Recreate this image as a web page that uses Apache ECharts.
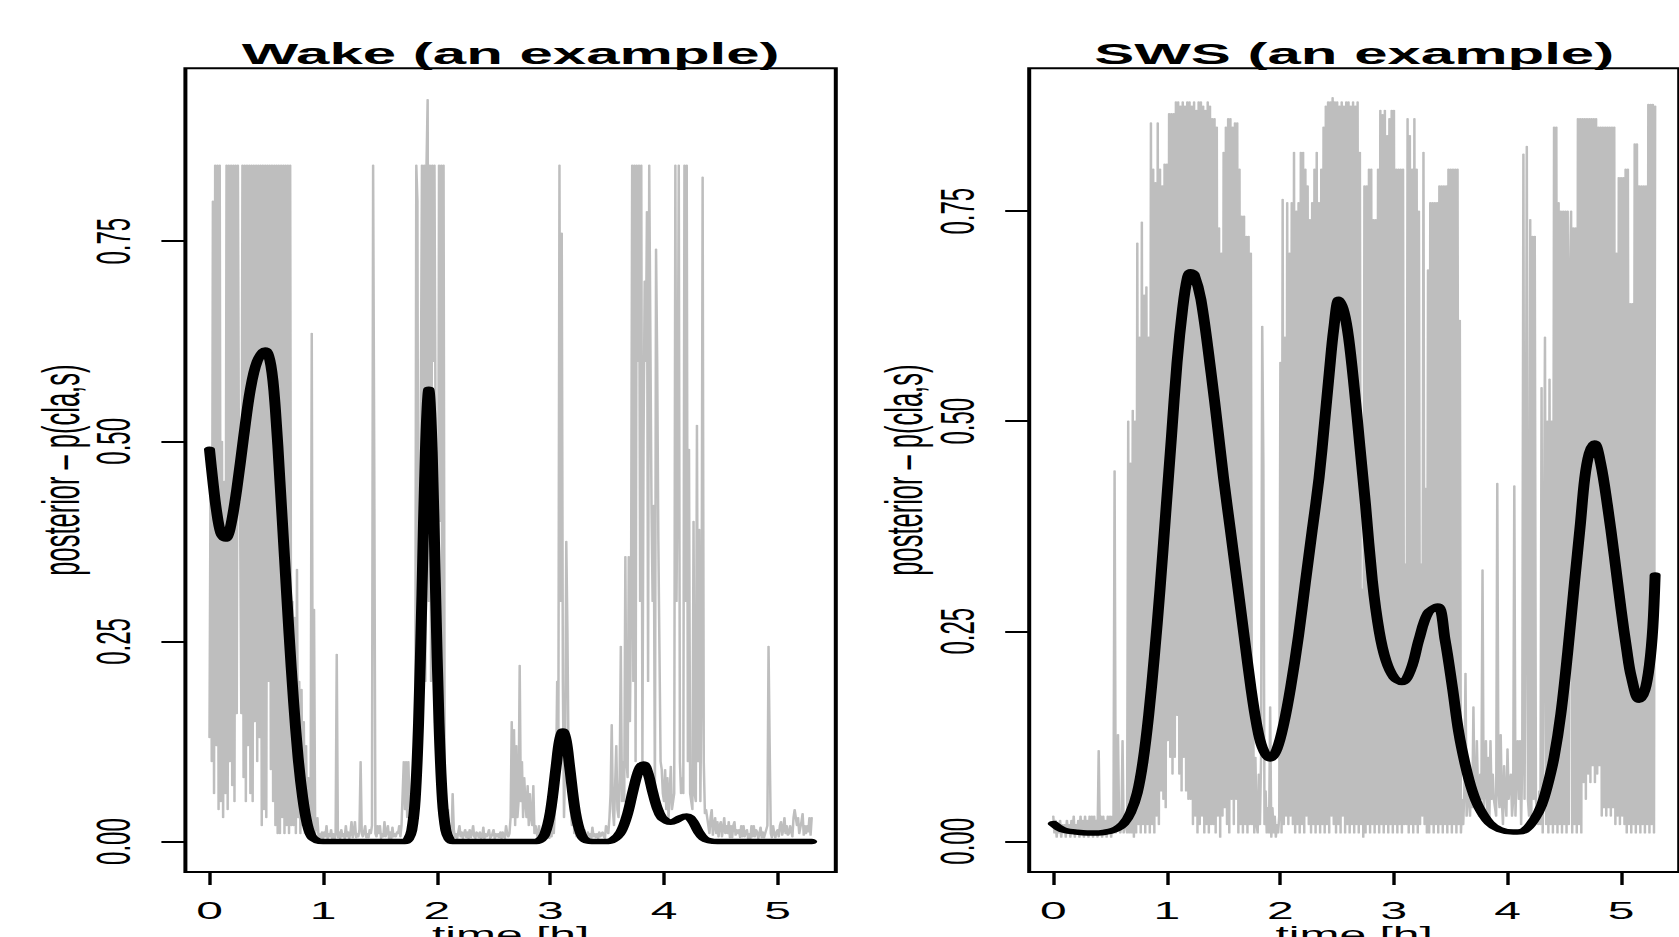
<!DOCTYPE html>
<html>
<head>
<meta charset="utf-8">
<script src="https://cdn.jsdelivr.net/npm/echarts@6/dist/echarts.min.js"></script>
<style>
  html, body { margin: 0; padding: 0; background: #fff; overflow: hidden; }
  #chart { width: 840px; height: 937px; transform: scaleX(2); transform-origin: 0 0; }
</style>
</head>
<body>
<div id="chart"></div>
<script>
// ---- data ----
const TIME_STEP_H = 0.01; // sampling step of the grey posterior traces (hours)

// Wake posterior trace, one row = 0.1 h
const wakeGray = [
 .13,.48,.10,.80,.06,.845,.12,.845,.04,.845,
 .05,.50,.03,.45,.06,.845,.04,.845,.10,.845,
 .07,.845,.05,.845,.16,.845,.43,.40,.16,.845,
 .08,.845,.05,.845,.12,.845,.06,.845,.05,.845,
 .15,.845,.10,.845,.13,.845,.02,.845,.04,.845,
 .03,.845,.20,.845,.09,.845,.05,.845,.02,.845,
 .01,.845,.01,.845,.03,.845,.01,.845,.02,.845,
 .01,.845,.02,.30,.02,.28,.01,.34,.03,.20,
 .01,.19,.02,.15,.01,.12,.01,.08,.005,.03,
 .635,.01,.29,.01,.02,.03,.005,.01,.004,.012,
 .004,.012,.006,.02,.004,.01,.006,.015,.004,.01,
 .003,.01,.234,.005,.012,.004,.015,.006,.01,.004,
 .02,.006,.012,.004,.01,.025,.005,.012,.025,.005,
 .01,.006,.015,.10,.01,.006,.012,.02,.005,.01,
 .005,.015,.01,.02,.845,.47,.01,.006,.02,.01,
 .02,.004,.01,.006,.025,.006,.012,.02,.004,.012,
 .004,.018,.006,.01,.006,.012,.01,.02,.006,.02,
 .06,.10,.04,.10,.03,.10,.05,.02,.06,.02,
 .04,.06,.845,.80,.05,.10,.55,.845,.30,.845,
 .20,.845,.927,.30,.845,.20,.845,.60,.845,.50,
 .42,.10,.845,.40,.845,.10,.845,.06,.03,.02,
 .04,.01,.02,.006,.06,.015,.005,.01,.004,.012,
 .02,.006,.012,.004,.01,.015,.005,.012,.004,.015,
 .005,.01,.02,.006,.004,.012,.01,.005,.012,.004,
 .005,.018,.004,.01,.006,.01,.015,.004,.006,.01,
 .015,.004,.01,.006,.01,.005,.012,.004,.012,.006,
 .004,.02,.01,.006,.01,.03,.15,.03,.14,.02,
 .12,.03,.05,.22,.05,.10,.03,.08,.05,.03,
 .07,.02,.06,.03,.02,.07,.01,.02,.01,.005,
 .02,.005,.004,.015,.006,.004,.01,.005,.01,.004,
 .02,.006,.03,.01,.04,.08,.20,.10,.845,.30,
 .76,.20,.03,.10,.375,.264,.10,.08,.04,.02,
 .08,.01,.02,.006,.01,.004,.015,.02,.004,.01,
 .015,.005,.006,.012,.004,.01,.004,.018,.006,.01,
 .005,.01,.004,.012,.006,.01,.012,.006,.004,.02,
 .02,.01,.03,.06,.146,.04,.02,.07,.12,.04,
 .03,.08,.244,.05,.10,.05,.356,.10,.08,.356,
 .15,.30,.845,.20,.845,.10,.845,.60,.845,.30,
 .845,.10,.50,.70,.60,.787,.20,.845,.845,.42,
 .30,.42,.05,.74,.60,.38,.24,.10,.09,.06,
 .05,.09,.04,.08,.03,.06,.094,.04,.05,.06,
 .845,.30,.49,.845,.10,.06,.08,.06,.845,.30,
 .845,.10,.49,.06,.06,.04,.40,.06,.05,.52,
 .10,.39,.05,.20,.83,.10,.035,.04,.03,.02,
 .01,.03,.04,.008,.02,.03,.01,.025,.006,.02,
 .025,.006,.015,.03,.01,.02,.01,.025,.005,.02,
 .005,.02,.025,.008,.015,.01,.015,.005,.02,.006,
 .02,.006,.012,.015,.004,.01,.004,.02,.006,.02,
 .006,.015,.012,.004,.01,.018,.005,.012,.005,.01,
 .01,.02,.244,.12,.01,.005,.02,.01,.005,.012,
 .015,.006,.02,.025,.008,.015,.03,.01,.02,.008,
 .01,.02,.02,.006,.03,.04,.04,.02,.03,.01,
 .01,.025,.035,.008,.02,.01,.02,.012,.03,.008,
 .03
];

// SWS posterior trace, one row = 0.1 h
const swsGray = [
 .03,.01,.025,.005,.02,.01,.025,.005,.02,.01,
 .02,.005,.025,.01,.02,.005,.025,.01,.03,.005,
 .02,.01,.025,.005,.03,.01,.025,.005,.03,.01,
 .025,.005,.03,.01,.03,.005,.03,.01,.025,.005,
 .108,.01,.03,.005,.03,.01,.025,.005,.03,.01,
 .03,.005,.03,.01,.441,.01,.03,.127,.02,.01,
 .02,.12,.01,.03,.02,.01,.50,.01,.45,.01,
 .513,.005,.50,.01,.712,.02,.60,.01,.737,.02,
 .65,.01,.66,.02,.60,.01,.855,.02,.80,.01,
 .784,.03,.855,.02,.80,.06,.78,.05,.806,.04,
 .806,.12,.866,.10,.866,.08,.866,.10,.88,.15,
 .88,.08,.875,.06,.88,.10,.875,.06,.88,.05,
 .88,.05,.875,.02,.88,.03,.87,.01,.88,.02,
 .88,.03,.875,.01,.87,.02,.88,.01,.875,.02,
 .86,.02,.86,.01,.85,.03,.73,.005,.70,.03,
 .82,.04,.85,.02,.86,.01,.86,.05,.85,.02,
 .855,.05,.855,.01,.80,.02,.744,.01,.744,.02,
 .72,.01,.72,.02,.70,.02,.15,.01,.10,.02,
 .01,.08,.02,.10,.613,.45,.02,.06,.01,.04,
 .01,.16,.005,.04,.01,.03,.005,.02,.01,.03,
 .57,.01,.764,.02,.60,.03,.76,.02,.70,.03,
 .76,.02,.82,.01,.75,.02,.76,.01,.82,.02,
 .82,.01,.80,.03,.78,.02,.74,.01,.76,.02,
 .80,.01,.82,.02,.76,.01,.80,.02,.85,.01,
 .875,.02,.88,.01,.88,.03,.885,.02,.88,.01,
 .88,.02,.875,.01,.88,.03,.875,.01,.88,.02,
 .88,.01,.875,.02,.88,.01,.875,.02,.88,.01,
 .82,.02,.30,.005,.78,.01,.78,.02,.80,.01,
 .80,.02,.74,.01,.74,.02,.80,.01,.87,.02,
 .865,.01,.87,.02,.84,.01,.86,.02,.87,.01,
 .87,.02,.80,.01,.80,.02,.80,.01,.80,.02,
 .33,.02,.86,.01,.84,.02,.80,.01,.86,.02,
 .80,.01,.75,.02,.33,.03,.82,.02,.42,.01,
 .68,.01,.76,.02,.76,.01,.76,.02,.76,.01,
 .78,.02,.78,.01,.78,.02,.78,.01,.80,.02,
 .80,.01,.80,.02,.80,.01,.80,.02,.62,.01,
 .05,.02,.06,.20,.03,.05,.08,.03,.08,.04,
 .16,.05,.04,.12,.06,.03,.08,.05,.323,.04,
 .06,.12,.03,.10,.02,.12,.05,.08,.05,.04,
 .03,.426,.06,.04,.127,.05,.02,.09,.05,.03,
 .11,.05,.07,.08,.03,.05,.423,.03,.08,.12,
 .05,.12,.02,.10,.818,.05,.30,.827,.05,.03,
 .74,.03,.72,.05,.72,.05,.05,.02,.06,.02,
 .54,.01,.30,.60,.02,.50,.01,.55,.02,.50,
 .01,.85,.02,.85,.01,.76,.02,.75,.01,.75,
 .02,.75,.01,.75,.02,.67,.75,.01,.73,.02,
 .73,.01,.86,.02,.86,.01,.86,.07,.86,.05,
 .86,.08,.86,.07,.86,.09,.86,.07,.86,.08,
 .85,.09,.85,.03,.85,.04,.85,.03,.85,.04,
 .85,.03,.85,.04,.85,.02,.70,.03,.79,.02,
 .79,.03,.79,.02,.80,.01,.80,.02,.64,.01,
 .64,.02,.83,.01,.83,.02,.78,.01,.78,.02,
 .78,.01,.78,.02,.877,.01,.877,.02,.877,.01,
 .875
];

const wakeCurveT = [0,.03,.06,.10,.14,.18,.24,.30,.36,.42,.49,.54,.58,.62,.66,.70,.74,.78,.82,.86,.90,.95,1.00,
  1.72,1.75,1.78,1.81,1.84,1.87,1.90,1.93,1.96,1.99,2.02,2.05,2.08,2.11,2.14,
  2.85,2.90,2.95,3.00,3.05,3.08,3.11,3.14,3.17,3.22,3.27,3.32,3.40,
  3.48,3.55,3.62,3.68,3.73,3.78,3.82,3.86,3.90,3.94,3.98,4.03,4.06,4.10,4.15,4.20,4.25,4.30,4.35,4.40,4.47,5.30];
const wakeCurveV = [.49,.45,.415,.385,.378,.39,.44,.505,.565,.60,.614,.595,.54,.45,.355,.26,.175,.105,.055,.022,.006,.001,0,
  0,.003,.014,.052,.148,.31,.487,.565,.487,.31,.148,.052,.014,.003,0,
  0,.001,.009,.037,.093,.126,.138,.126,.093,.037,.009,.001,0,
  0,.002,.012,.035,.065,.09,.097,.085,.062,.042,.03,.025,.024,.026,.03,.032,.026,.013,.004,.001,0,0];

const swsCurveT = [0,.05,.10,.20,.30,.40,.50,.56,.62,.68,.74,.79,.84,.89,.94,.99,1.04,1.09,1.14,1.18,1.21,1.24,1.30,1.39,1.45,
  1.50,1.56,1.62,1.68,1.74,1.79,1.84,1.91,1.97,2.03,2.09,2.16,2.22,2.28,2.34,2.39,2.43,2.47,2.515,2.56,2.60,2.65,2.70,2.75,
  2.81,2.87,2.93,3.00,3.07,3.15,3.22,3.30,3.385,3.45,3.515,3.57,3.63,3.69,3.75,3.84,3.93,4.05,4.15,4.24,4.30,4.35,4.41,4.47,
  4.53,4.59,4.64,4.68,4.72,4.765,4.82,4.88,4.94,5.00,5.05,5.09,5.16,5.21,5.25,5.28,5.30];
const swsCurveV = [.021,.016,.013,.011,.010,.010,.012,.015,.021,.034,.058,.095,.15,.22,.30,.39,.48,.57,.635,.67,.678,.675,.645,.557,.49,
  .432,.37,.308,.245,.183,.14,.112,.098,.11,.14,.183,.245,.308,.37,.432,.50,.557,.61,.645,.63,.60,.54,.47,.40,
  .31,.25,.215,.195,.189,.205,.24,.272,.28,.24,.183,.13,.09,.06,.04,.022,.014,.011,.013,.027,.043,.065,.10,.152,
  .225,.308,.375,.432,.462,.474,.45,.40,.34,.276,.228,.196,.168,.18,.21,.255,.317];

const xTicks = [0, 1, 2, 3, 4, 5];
const yTicks = [0, 0.25, 0.5, 0.75];
const panelTitles = ['Wake (an example)', 'SWS (an example)'];
const yLabel = 'posterior \u2013 p(cla,s)';
const xLabel = 'time [h]';

// ---- chart ----
const FONT = '"Liberation Sans", Arial, Helvetica, sans-serif';
const panels = [
  { left: 92.7, width: 325.2, yMin: -0.038, yMax: 0.966, gray: wakeGray, ct: wakeCurveT, cv: wakeCurveV },
  { left: 514.6, width: 325.0, yMin: -0.0365, yMax: 0.920, gray: swsGray, ct: swsCurveT, cv: swsCurveV }
];
const TOP = 68.3, HEIGHT = 803.7;

const grids = [], xAxes = [], yAxes = [], series = [], graphics = [];
panels.forEach((p, k) => {
  grids.push({ left: p.left, top: TOP, width: p.width, height: HEIGHT, show: true,
               borderColor: '#000', borderWidth: 2, backgroundColor: 'transparent',
               containLabel: false, outerBoundsMode: 'none' });
  xAxes.push({
    type: 'value', gridIndex: k, min: -0.212, max: 5.512, position: 'bottom',
    axisLine: { show: false, onZero: false },
    splitLine: { show: false },
    axisTick: { show: true, customValues: xTicks, length: 13, lineStyle: { color: '#000', width: 1.7 } },
    axisLabel: { customValues: xTicks, margin: 27, color: '#000', fontSize: 24, lineHeight: 24, fontFamily: FONT,
                 formatter: v => String(v) },
    name: xLabel, nameLocation: 'middle', nameGap: 51, nameMoveOverlap: false,
    nameTextStyle: { color: '#000', fontSize: 24, lineHeight: 24, fontFamily: FONT }
  });
  yAxes.push({
    type: 'value', gridIndex: k, min: p.yMin, max: p.yMax, position: 'left',
    axisLine: { show: false, onZero: false },
    splitLine: { show: false },
    axisTick: { show: true, customValues: yTicks, length: 12, lineStyle: { color: '#000', width: 2 } },
    axisLabel: { customValues: yTicks, rotate: 90, margin: 24, color: '#000', fontSize: 24, lineHeight: 24, fontFamily: FONT,
                 formatter: v => v.toFixed(2) },
    name: yLabel, nameLocation: 'middle', nameGap: 49, nameRotate: 90,
    nameTextStyle: { color: '#000', fontSize: 25.5, lineHeight: 25, fontFamily: FONT }
  });
  series.push({
    type: 'line', xAxisIndex: k, yAxisIndex: k, z: 2, silent: true, showSymbol: false, symbol: 'none',
    animation: false, sampling: null,
    lineStyle: { color: '#bebebe', width: 1.25, join: 'round', cap: 'round' },
    data: p.gray.map((v, i) => [i * TIME_STEP_H, v])
  });
  series.push({
    type: 'line', xAxisIndex: k, yAxisIndex: k, z: 3, silent: true, showSymbol: false, symbol: 'none',
    animation: false, smooth: 0.35,
    lineStyle: { color: '#000', width: 5.5, cap: 'round', join: 'round' },
    data: p.ct.map((t, i) => [t, p.cv[i]])
  });
  graphics.push({
    type: 'text', x: p.left + p.width / 2, y: 53.1, z: 10, silent: true,
    style: { text: panelTitles[k], fill: '#000', font: 'bold 30px ' + FONT,
             textAlign: 'center', align: 'center', textVerticalAlign: 'middle', verticalAlign: 'middle' }
  });
});

const chart = echarts.init(document.getElementById('chart'), null, { renderer: 'svg' });
chart.setOption({
  animation: false,
  backgroundColor: '#fff',
  grid: grids, xAxis: xAxes, yAxis: yAxes, series: series, graphic: graphics
});
</script>
</body>
</html>
